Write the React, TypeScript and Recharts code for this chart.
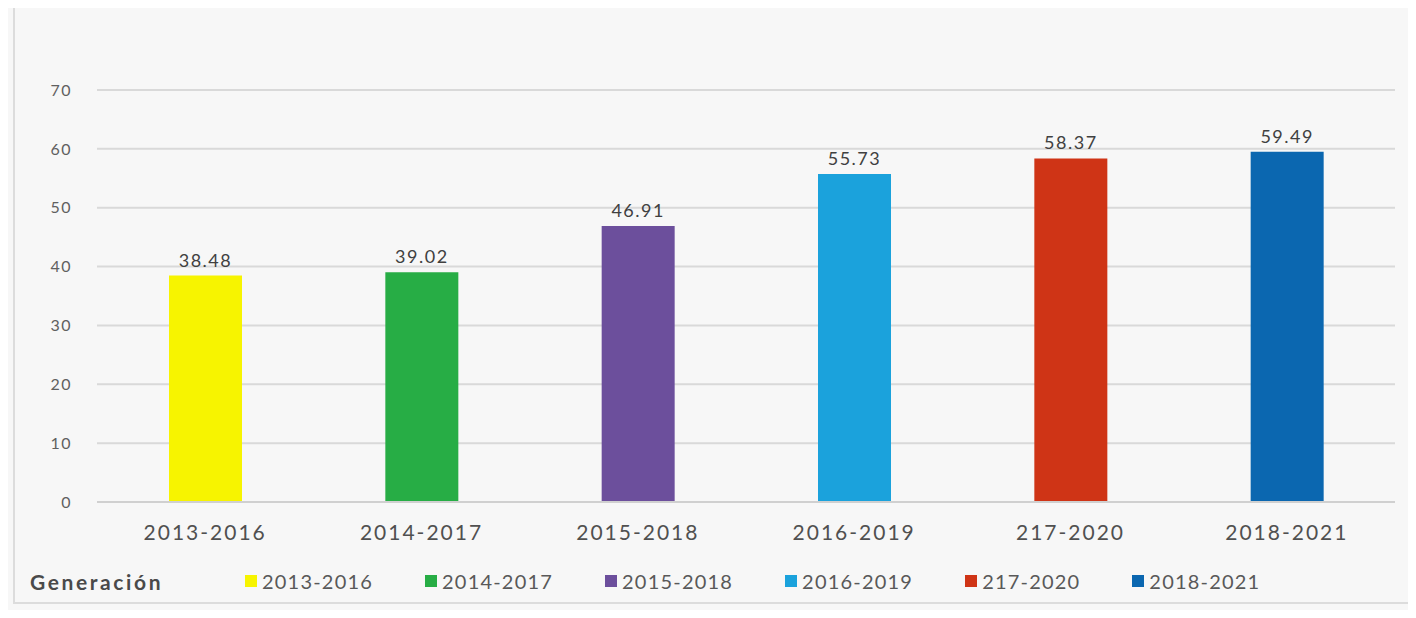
import React from "react";
import {
  BarChart,
  Bar,
  XAxis,
  YAxis,
  CartesianGrid,
  Cell,
  LabelList,
  Legend,
} from "recharts";

const categories = [
  "2013-2016",
  "2014-2017",
  "2015-2018",
  "2016-2019",
  "217-2020",
  "2018-2021",
];
const values = [38.48, 39.02, 46.91, 55.73, 58.37, 59.49];
const colors = ["#f7f400", "#27ad45", "#6c4f9c", "#1ba2dc", "#cf3416", "#0b67b0"];
const yTicks = [0, 10, 20, 30, 40, 50, 60, 70];
const legendTitle = "Generación";

const data = categories.map((name, i) => ({ name, value: values[i] }));

const font = "Lato, 'Open Sans', sans-serif";

function GenLegend() {
  return (
    <div
      style={{
        display: "flex",
        alignItems: "center",
        height: 40,
        fontFamily: font,
        fontSize: 20,
        color: "#595959",
        letterSpacing: 1.2,
      }}
    >
      <span
        style={{
          fontWeight: 700,
          fontSize: 21,
          letterSpacing: 2.6,
          marginLeft: 22,
          width: 215,
          color: "#4a4a4a",
        }}
      >
        {legendTitle}
      </span>
      {categories.map((c, i) => (
        <span
          key={c}
          style={{ display: "inline-flex", alignItems: "center", marginRight: 52 }}
        >
          <span
            style={{
              width: 12,
              height: 12,
              background: colors[i],
              marginRight: 5,
              display: "inline-block",
            }}
          />
          {c}
        </span>
      ))}
    </div>
  );
}

export default function App() {
  return (
    <div
      style={{
        margin: -8,
        width: 1416,
        height: 618,
        background: "#f7f7f7",
        position: "relative",
        overflow: "hidden",
      }}
    >
      <div
        style={{
          position: "absolute",
          left: 13,
          top: -10,
          width: 1420,
          height: 614,
          border: "2px solid #dcdcdc",
          boxSizing: "border-box",
        }}
      />
      <div style={{ position: "absolute", left: 8, top: 8 }}>
        <BarChart
          width={1400}
          height={610}
          data={data}
          margin={{ top: 82, right: 13, left: 0, bottom: 17 }}
        >
          <CartesianGrid vertical={false} stroke="#d9d9d9" strokeWidth={2} />
          <XAxis
            dataKey="name"
            height={59}
            tickLine={false}
            axisLine={{ stroke: "#d0d0d0", strokeWidth: 2 }}
            tickMargin={17}
            tick={{ fill: "#505050", fontSize: 21, fontFamily: font, letterSpacing: 2 }}
          />
          <YAxis
            width={89}
            domain={[0, 70]}
            ticks={yTicks}
            tickLine={false}
            axisLine={false}
            tickMargin={19}
            tick={{ fill: "#606060", fontSize: 16, fontFamily: font, letterSpacing: 1.5 }}
          />
          <Legend verticalAlign="bottom" height={40} content={<GenLegend />} />
          <Bar dataKey="value" barSize={73} isAnimationActive={false}>
            {data.map((d, i) => (
              <Cell key={d.name} fill={colors[i]} />
            ))}
            <LabelList
              dataKey="value"
              position="top"
              offset={9}
              fill="#404040"
              style={{ fontSize: 18, fontFamily: font, letterSpacing: 1.5 }}
            />
          </Bar>
        </BarChart>
      </div>
    </div>
  );
}
